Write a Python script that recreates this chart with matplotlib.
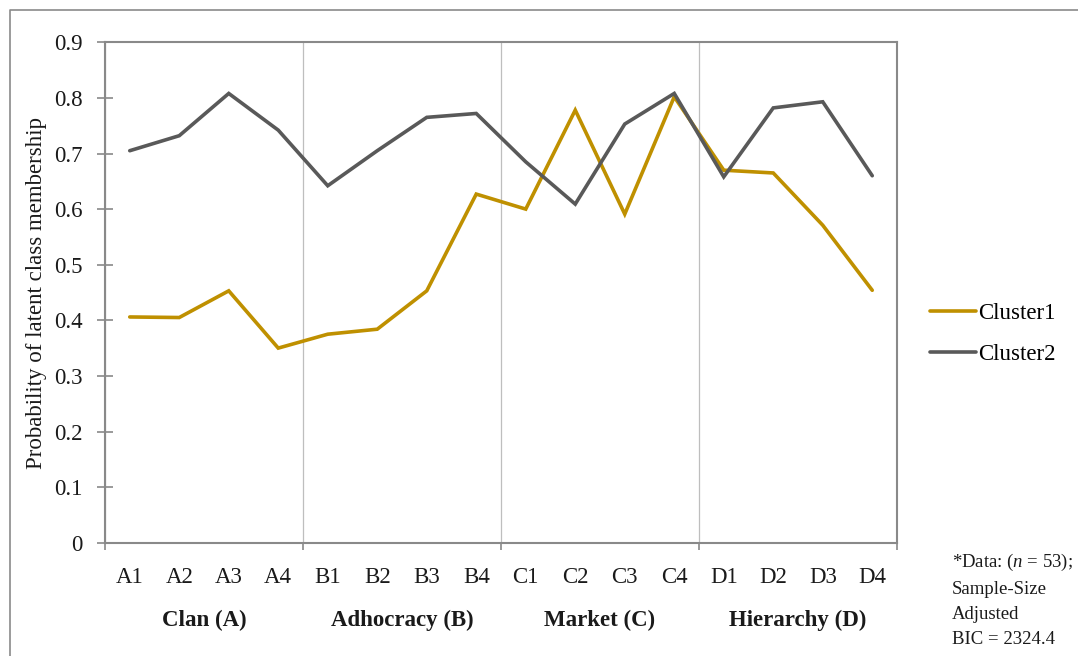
import matplotlib
matplotlib.use("Agg")
import matplotlib.pyplot as plt
from matplotlib.lines import Line2D
from matplotlib.transforms import blended_transform_factory

plt.rcParams["font.family"] = ["Liberation Serif", "DejaVu Serif"]
plt.rcParams["mathtext.fontset"] = "custom"
plt.rcParams["mathtext.rm"] = "Liberation Serif"
plt.rcParams["mathtext.it"] = "Liberation Serif:italic"

# Items of the four culture types
items = ["A1", "A2", "A3", "A4", "B1", "B2", "B3", "B4",
         "C1", "C2", "C3", "C4", "D1", "D2", "D3", "D4"]
groups = ["Clan (A)", "Adhocracy (B)", "Market (C)", "Hierarchy (D)"]

# Probability of latent class membership per item
cluster1 = [0.406, 0.405, 0.453, 0.350, 0.375, 0.384, 0.453, 0.627,
            0.600, 0.778, 0.591, 0.802, 0.670, 0.665, 0.571, 0.454]
cluster2 = [0.705, 0.732, 0.808, 0.742, 0.642, 0.705, 0.765, 0.772,
            0.685, 0.609, 0.753, 0.808, 0.658, 0.782, 0.793, 0.660]

series_names = ["Cluster1", "Cluster2"]
series_colors = ["#BF9000", "#595959"]

yticks = [0, 0.1, 0.2, 0.3, 0.4, 0.5, 0.6, 0.7, 0.8, 0.9]
ytick_labels = ["0", "0.1", "0.2", "0.3", "0.4", "0.5", "0.6", "0.7", "0.8", "0.9"]

note = "*Data: ($\\it{n}$ = 53);\nSample-Size\nAdjusted\nBIC = 2324.4"

W, H = 1078, 656
fig = plt.figure(figsize=(W / 100, H / 100), dpi=100)
ax = fig.add_axes([105 / W, 1 - 542.7 / H, (897 - 105) / W, (542.7 - 42.3) / H])

x = list(range(len(items)))
for vals, name, col in zip([cluster1, cluster2], series_names, series_colors):
    ax.plot(x, vals, color=col, lw=2.6, label=name, solid_joinstyle="miter",
            solid_capstyle="round", zorder=3)

ax.set_xlim(-0.5, len(items) - 0.5)
ax.set_ylim(0, 0.9)

# group boundaries as major ticks with vertical gridlines
bounds = [-0.5 + 4 * i for i in range(len(groups) + 1)]
ax.set_xticks(bounds)
ax.set_xticklabels([""] * len(bounds))
ax.set_xticks(x, minor=True)
ax.set_xticklabels(items, minor=True, fontsize=16.5)
ax.tick_params(axis="x", which="major", direction="out", length=5.2, width=1.2,
               color="#898989")
ax.tick_params(axis="x", which="minor", length=0, pad=17.5, colors="#1a1a1a")
ax.grid(axis="x", which="major", color="#BEBEBE", lw=0.9)

ax.set_yticks(yticks)
ax.set_yticklabels(ytick_labels, fontsize=16.5)
ax.tick_params(axis="y", direction="inout", length=12, width=1.2,
               color="#898989", pad=10, labelcolor="#1a1a1a")

for s in ax.spines.values():
    s.set_color("#898989")
    s.set_linewidth(1.5)

ax.set_ylabel("Probability of latent class membership", fontsize=16.5,
              color="#1a1a1a")
ax.yaxis.set_label_coords(-0.073, 0.5)

# group names under the item labels
trans = blended_transform_factory(ax.transData, fig.transFigure)
for i, g in enumerate(groups):
    ax.text(4 * i + 1.5, 1 - 620 / H, g, transform=trans, ha="center",
            va="center", fontsize=16.5, fontweight="bold", color="#1a1a1a")

ax.legend(loc="center left", bbox_to_anchor=(930 / W, 1 - 334 / H),
          bbox_transform=fig.transFigure, frameon=False, borderpad=0,
          borderaxespad=0, fontsize=16.5, handlelength=2.0, handletextpad=0.1,
          labelspacing=0.9)

fig.text(952 / W, 1 - 552 / H, note, ha="left", va="top", fontsize=13.5,
         linespacing=1.62, color="#1a1a1a")

# outer chart frame
fig.add_artist(Line2D([9.5 / W, 9.5 / W, 1.0], [0.0, 1 - 9.5 / H, 1 - 9.5 / H],
                      transform=fig.transFigure, color="#8a8a8a", lw=1.2))

fig.savefig("out.png", dpi=100)
